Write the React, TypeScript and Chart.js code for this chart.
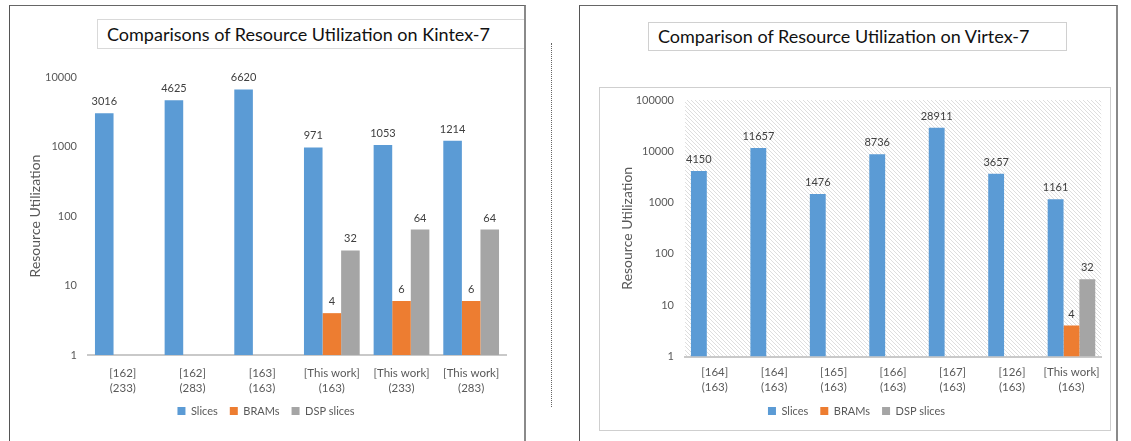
import React, { useEffect, useRef } from 'react';
import { Chart, registerables } from 'chart.js';

Chart.register(...registerables);

const seriesNames = ['Slices', 'BRAMs', 'DSP slices'];
const seriesColors = ['#5B9BD5', '#ED7D31', '#A5A5A5'];

const kintexTitle = 'Comparisons of Resource Utilization on Kintex-7';
const kintexCategories = [
  ['[162]', '(233)'],
  ['[162]', '(283)'],
  ['[163]', '(163)'],
  ['[This work]', '(163)'],
  ['[This work]', '(233)'],
  ['[This work]', '(283)'],
];
const kintexSlices = [3016, 4625, 6620, 971, 1053, 1214];
const kintexBrams = [null, null, null, 4, 6, 6];
const kintexDsp = [null, null, null, 32, 64, 64];
const kintexTicks = [1, 10, 100, 1000, 10000];

const virtexTitle = 'Comparison of Resource Utilization on Virtex-7';
const virtexCategories = [
  ['[164]', '(163)'],
  ['[164]', '(163)'],
  ['[165]', '(163)'],
  ['[166]', '(163)'],
  ['[167]', '(163)'],
  ['[126]', '(163)'],
  ['[This work]', '(163)'],
];
const virtexSlices = [4150, 11657, 1476, 8736, 28911, 3657, 1161];
const virtexBrams = [null, null, null, null, null, null, 4];
const virtexDsp = [null, null, null, null, null, null, 32];
const virtexTicks = [1, 10, 100, 1000, 10000, 100000];

const yTitle = 'Resource Utilization';
const FONT = 'Lato';
const TEXT = '#595959';

const valueLabels = {
  id: 'valueLabels',
  afterDatasetsDraw(chart: any) {
    const ctx = chart.ctx;
    ctx.save();
    ctx.font = `11px ${FONT}`;
    ctx.fillStyle = '#404040';
    ctx.textAlign = 'center';
    ctx.textBaseline = 'bottom';
    chart.data.datasets.forEach((ds: any, i: number) => {
      const meta = chart.getDatasetMeta(i);
      meta.data.forEach((el: any, j: number) => {
        const v = ds.data[j];
        if (v == null) return;
        ctx.fillText(String(v), el.x, el.y - 6);
      });
    });
    ctx.restore();
  },
};

const hatch = {
  id: 'hatch',
  beforeDraw(chart: any, _args: any, opts: any) {
    if (!opts || !opts.enabled) return;
    const { ctx, chartArea } = chart;
    const p = document.createElement('canvas');
    p.width = 4;
    p.height = 4;
    const pc = p.getContext('2d')!;
    pc.strokeStyle = '#DEDEDE';
    pc.lineWidth = 1;
    pc.beginPath();
    pc.moveTo(-1, -1);
    pc.lineTo(5, 5);
    pc.moveTo(-1, 3);
    pc.lineTo(1, 5);
    pc.moveTo(3, -1);
    pc.lineTo(5, 1);
    pc.stroke();
    const pattern = ctx.createPattern(p, 'repeat');
    ctx.save();
    ctx.fillStyle = pattern;
    ctx.fillRect(chartArea.left, chartArea.top, chartArea.right - chartArea.left, chartArea.bottom - chartArea.top);
    ctx.restore();
  },
};

type Cfg = {
  categories: string[][];
  slices: (number | null)[];
  brams: (number | null)[];
  dsp: (number | null)[];
  ticks: number[];
  width: number;
  height: number;
  pad: { left: number; right: number; top: number; bottom: number };
  yWidth: number;
  yTitlePad: number;
  xHeight: number;
  xPad: number;
  hatchOn: boolean;
};

function BarChart(props: Cfg) {
  const ref = useRef<HTMLCanvasElement>(null);
  useEffect(() => {
    const values = [props.slices, props.brams, props.dsp];
    const chart = new Chart(ref.current!, {
      type: 'bar',
      data: {
        labels: props.categories,
        datasets: seriesNames.map((name, i) => ({
          label: name,
          data: values[i],
          backgroundColor: seriesColors[i],
          borderWidth: 0,
          categoryPercentage: 0.8,
          barPercentage: 1.0,
        })),
      },
      options: {
        responsive: false,
        animation: false,
        layout: { padding: props.pad },
        plugins: {
          legend: {
            position: 'bottom',
            labels: {
              boxWidth: 8,
              boxHeight: 8,
              padding: 12,
              color: TEXT,
              font: { family: FONT, size: 11 },
            },
          },
          tooltip: { enabled: false },
          hatch: { enabled: props.hatchOn },
        } as any,
        scales: {
          x: {
            grid: { display: false, drawTicks: false },
            border: { display: true, color: '#C9C9C9', width: 2 },
            ticks: {
              color: TEXT,
              padding: props.xPad,
              autoSkip: false,
              maxRotation: 0,
              font: { family: FONT, size: 11.5, lineHeight: 1.25 },
            },
            afterFit: (s: any) => {
              s.height = props.xHeight;
            },
          },
          y: {
            type: 'logarithmic',
            min: props.ticks[0],
            max: props.ticks[props.ticks.length - 1],
            grid: { display: false, drawTicks: false },
            border: { display: false },
            ticks: {
              color: TEXT,
              padding: 11,
              autoSkip: false,
              font: { family: FONT, size: 11 },
              callback: (v: any) => String(v),
            },
            afterBuildTicks: (s: any) => {
              s.ticks = props.ticks.map((v) => ({ value: v }));
            },
            afterFit: (s: any) => {
              s.width = props.yWidth;
            },
            title: {
              display: true,
              text: yTitle,
              color: TEXT,
              padding: { top: props.yTitlePad, bottom: 0 },
              font: { family: FONT, size: 14 },
            },
          },
        },
      },
      plugins: [hatch, valueLabels],
    });
    return () => chart.destroy();
  }, []);
  return <canvas ref={ref} width={props.width} height={props.height} style={{ width: props.width, height: props.height, display: 'block' }} />;
}

const abs = (l: number, t: number, w: number, h: number, extra: any = {}) => ({
  position: 'absolute' as const,
  left: l,
  top: t,
  width: w,
  height: h,
  boxSizing: 'border-box' as const,
  ...extra,
});

export default function App() {
  return (
    <div style={{ position: 'fixed', left: 0, top: 0, width: 1131, height: 441, background: '#fff', overflow: 'hidden', fontFamily: FONT }}>
      {/* Left frame */}
      <div style={abs(9, 5, 517, 450, { borderLeft: '1px solid #555', borderTop: '1px solid #666', borderRight: '2px solid #8a8a8a' })} />
      <div style={abs(97, 19, 427, 30, { borderLeft: '1px solid #D9D9D9', borderTop: '1px solid #D9D9D9', borderBottom: '1px solid #D9D9D9', paddingLeft: 9, fontSize: 18, lineHeight: '28px', color: '#111', whiteSpace: 'nowrap' })}>
        {kintexTitle}
      </div>
      <div style={abs(10, 55, 514, 386)}>
        <BarChart
          categories={kintexCategories}
          slices={kintexSlices}
          brams={kintexBrams}
          dsp={kintexDsp}
          ticks={kintexTicks}
          width={514}
          height={386}
          pad={{ left: 16, right: 18, top: 22, bottom: 14.5 }}
          yWidth={62}
          yTitlePad={0.6}
          xHeight={38.5}
          xPad={11.5}
          hatchOn={false}
        />
      </div>
      {/* Dotted separator */}
      <div style={abs(551, 43, 1, 364, { borderLeft: '1px dotted #666' })} />
      {/* Right frame */}
      <div style={abs(579, 5, 539, 450, { borderLeft: '1px solid #555', borderTop: '1px solid #666', borderRight: '2px solid #8a8a8a' })} />
      <div style={abs(648, 22, 419, 29, { border: '1px solid #D0D0D0', paddingLeft: 9, fontSize: 18, lineHeight: '27px', color: '#111', whiteSpace: 'nowrap' })}>
        {virtexTitle}
      </div>
      <div style={abs(599, 87, 512, 344, { border: '1px solid #CFCFCF' })} />
      <div style={abs(600, 81, 509, 348)}>
        <BarChart
          categories={virtexCategories}
          slices={virtexSlices}
          brams={virtexBrams}
          dsp={virtexDsp}
          ticks={virtexTicks}
          width={509}
          height={348}
          pad={{ left: 11, right: 7, top: 19, bottom: 2.5 }}
          yWidth={74}
          yTitlePad={7.6}
          xHeight={37}
          xPad={9}
          hatchOn={true}
        />
      </div>
    </div>
  );
}
